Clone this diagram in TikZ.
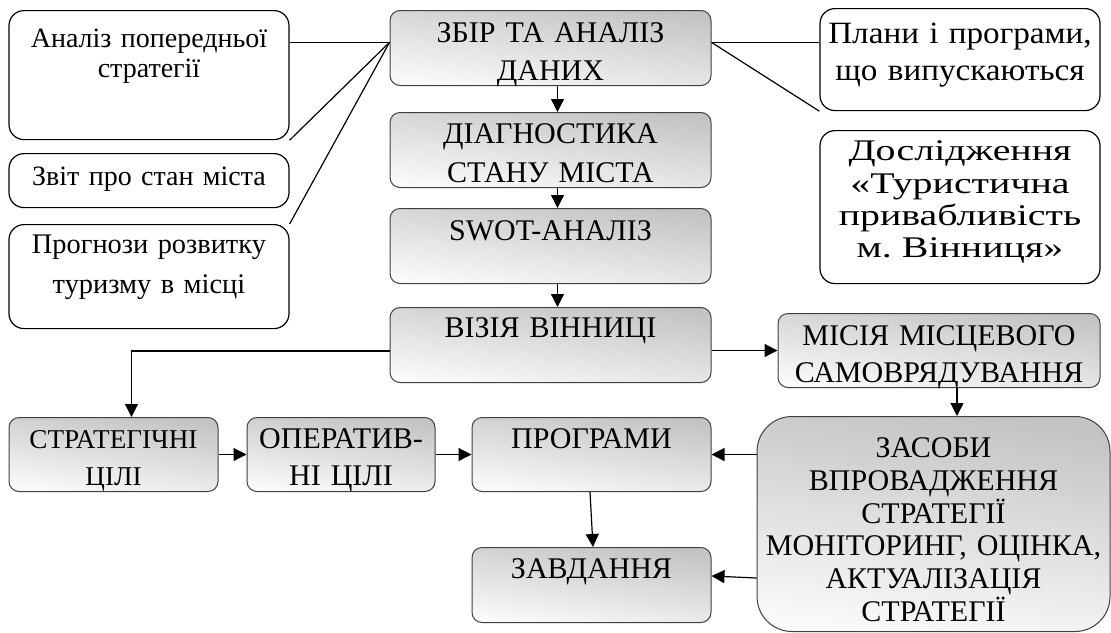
\documentclass[tikz,border=0pt]{standalone}
\usepackage{fontspec}
\setmainfont{Liberation Serif}
\newfontfamily\widefont[FakeStretch=1.33]{Liberation Serif}
\newfontfamily\halfwidefont[FakeStretch=1.07]{Liberation Serif}
\usetikzlibrary{arrows.meta}
\definecolor{boxgray}{RGB}{195,195,195}
\definecolor{boxlight}{RGB}{250,250,250}

\begin{document}
\frenchspacing
\begin{tikzpicture}[x=0.5pt,y=-0.5pt,
  fs/.style={font=\fontsize{15}{#1}\selectfont},
  box/.style={draw, anchor=north, align=center, inner xsep=0pt, inner ysep=0pt, fs=18},
  whitebox/.style={box, fill=white, rounded corners=7.5pt, line width=0.6pt},
  graybox/.style={box, rounded corners=5pt, draw=black!75, line width=0.5pt,
    top color=boxgray, bottom color=boxlight, shading angle=-8},
  link/.style={line width=0.6pt},
  arr/.style={link, -{Triangle[length=6.5pt,width=6.5pt]}}]
\useasboundingbox (0,0) rectangle (1111,632);

% sources of data
\node[whitebox, minimum width=140pt, text width=140pt, text height=18.5pt, text depth=46pt, font=\fontsize{14}{15}\selectfont] (analiz) at (149,10) {Аналіз попередньої\\стратегії};
\node[whitebox, minimum width=140pt, text width=140pt, text height=16pt, text depth=11pt, font=\fontsize{14}{15}\selectfont] (zvit) at (149,153) {Звіт про стан міста};
\node[whitebox, minimum width=140pt, text width=140pt, text height=14.5pt, text depth=37.5pt, font=\fontsize{14.2}{20}\selectfont] (prognoz) at (149,224) {Прогнози розвитку\\туризму в місці};
\node[whitebox, minimum width=140pt, text width=140pt, text height=17.5pt, text depth=33.5pt, font=\halfwidefont\fontsize{15.5}{18.5}\selectfont] (plany) at (960,8) {Плани і програми,\\що випускаються};
\node[whitebox, minimum width=140pt, text width=140pt, text height=15pt, text depth=61.5pt, font=\widefont\fontsize{15}{16.2}\selectfont] (doslid) at (960,130) {Дослідження\\«Туристична\\привабливість\\м. Вінниця»};

% main chain
\node[graybox, minimum width=160.5pt, text width=160.5pt, text height=16pt, text depth=21.5pt, fs=19] (zbir) at (550.5,10) {ЗБІР ТА АНАЛІЗ\\ДАНИХ};
\node[graybox, minimum width=160.5pt, text width=160.5pt, text height=15.5pt, text depth=22pt, fs=19.5] (diagn) at (550.5,112) {ДІАГНОСТИКА\\СТАНУ МІСТА};
\node[graybox, minimum width=160.5pt, text width=160.5pt, text height=16pt, text depth=21.5pt] (swot) at (550.5,208) {SWOT-АНАЛІЗ};
\node[graybox, minimum width=160.5pt, text width=160.5pt, text height=15pt, text depth=22.5pt] (vizia) at (550.5,307) {ВІЗІЯ ВІННИЦІ};
\node[graybox, minimum width=161pt, text width=161pt, text height=16pt, text depth=21pt, fs=18.5] (misia) at (939,313) {МІСІЯ МІСЦЕВОГО\\САМОВРЯДУВАННЯ};

% goals row
\node[graybox, minimum width=104.5pt, text width=104.5pt, text height=15.5pt, text depth=21.5pt, font=\fontsize{13.6}{18.5}\selectfont] (strat) at (113.5,417) {СТРАТЕГІЧНІ\\ЦІЛІ};
\node[graybox, minimum width=94pt, text width=94pt, text height=15.5pt, text depth=21.5pt, fs=18.5] (operat) at (341,417) {ОПЕРАТИВ-\\НІ ЦІЛІ};
\node[graybox, minimum width=119.5pt, text width=119.5pt, text height=15.5pt, text depth=21.5pt] (progr) at (591.5,417) {ПРОГРАМИ};
\node[graybox, minimum width=119.5pt, text width=119.5pt, text height=15.5pt, text depth=22pt] (zavd) at (591.5,547) {ЗАВДАННЯ};
\node[graybox, rounded corners=17.5pt, minimum width=176.5pt, text width=176.5pt, text height=20.5pt, text depth=87pt, fs=16.4] (zasoby) at (933.5,416) {ЗАСОБИ\\ВПРОВАДЖЕННЯ\\СТРАТЕГІЇ\\МОНІТОРИНГ, ОЦІНКА,\\АКТУАЛІЗАЦІЯ\\СТРАТЕГІЇ};

% links to the data box
\draw[link] (zbir.178) -- (zbir.178 -| analiz.east);
\draw[link] (zbir.178) -- (analiz.south east);
\draw[link] (zbir.178) -- (prognoz.north east);
\draw[link] (zbir.2) -- (zbir.2 -| plany.west);
\draw[link] (zbir.2) -- (plany.south west);

% arrows
\draw[arr] ([xshift=3.5pt]zbir.south) -- ([xshift=3.5pt]diagn.north);
\draw[arr] ([xshift=3.5pt]diagn.south) -- ([xshift=3.5pt]swot.north);
\draw[arr] ([xshift=3.5pt]swot.south) -- ([xshift=3.5pt]vizia.north);
\draw[arr] ([yshift=-3pt]vizia.west) -| ([xshift=9pt]strat.north);
\draw[arr] (vizia.east |- misia.west) -- (misia.west);
\draw[arr] ([xshift=9pt]misia.south) -- ([xshift=9pt]misia.south |- zasoby.north);
\draw[arr] (strat.east) -- (operat.west);
\draw[arr] (operat.east) -- (progr.west);
\draw[arr] (progr.east -| zasoby.west) -- (progr.east);
\draw[arr] ([yshift=3.5pt]zavd.east -| zasoby.west) -- ([yshift=4.5pt]zavd.east);
\draw[arr] ([xshift=-0.75pt]progr.south) -- ([xshift=0.75pt]zavd.north);
\end{tikzpicture}
\end{document}
